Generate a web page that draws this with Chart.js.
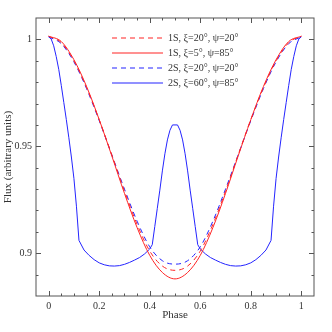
<!DOCTYPE html>
<html>
<head>
<meta charset="utf-8">
<script src="https://cdn.jsdelivr.net/npm/chart.js@4"></script>
<style>
  html, body { margin: 0; padding: 0; background: #fff; }
  #wrap { width: 332px; height: 332px; }
</style>
</head>
<body>
<div id="wrap"><canvas id="fluxChart" width="332" height="332"></canvas></div>
<script>
// phase grid of the smooth curves
const phase = [0, 0.05, 0.10, 0.15, 0.20, 0.25, 0.30, 0.35, 0.40, 0.45, 0.50,
               0.55, 0.60, 0.65, 0.70, 0.75, 0.80, 0.85, 0.90, 0.95, 1.00];

// 1S, xi=20, psi=20 (red dashed)
const flux1S_20_20 = [1.0015, 0.9985, 0.9900, 0.9775, 0.9625, 0.9460, 0.9290, 0.9135, 0.9010, 0.8940, 0.8920,
                      0.8940, 0.9010, 0.9135, 0.9290, 0.9460, 0.9625, 0.9775, 0.9900, 0.9985, 1.0015];
// 1S, xi=5, psi=85 (red solid)
const flux1S_5_85 = [1.0015, 0.9990, 0.9905, 0.9780, 0.9625, 0.9455, 0.9280, 0.9120, 0.8990, 0.8910, 0.8880,
                     0.8910, 0.8990, 0.9120, 0.9280, 0.9455, 0.9625, 0.9780, 0.9905, 0.9990, 1.0015];
// 2S, xi=20, psi=20 (blue dashed)
const flux2S_20_20 = [1.0012, 0.9980, 0.9895, 0.9770, 0.9620, 0.9460, 0.9300, 0.9150, 0.9030, 0.8965, 0.8949,
                      0.8965, 0.9030, 0.9150, 0.9300, 0.9460, 0.9620, 0.9770, 0.9895, 0.9980, 1.0012];

// 2S, xi=60, psi=85 (blue solid) has its own phases
const phase2S_60_85 = [0, 0.01, 0.02, 0.03, 0.04, 0.05, 0.06, 0.07, 0.08, 0.09, 0.10, 0.11, 0.12,
                       0.14, 0.16, 0.18, 0.20, 0.22, 0.24, 0.26, 0.28, 0.30, 0.32, 0.34, 0.36, 0.38, 0.40,
                       0.41, 0.42, 0.43, 0.44, 0.45, 0.46, 0.47, 0.48, 0.49, 0.51,
                       0.52, 0.53, 0.54, 0.55, 0.56, 0.57, 0.58, 0.59,
                       0.60, 0.62, 0.64, 0.66, 0.68, 0.70, 0.72, 0.74, 0.76, 0.78, 0.80, 0.82, 0.84, 0.86,
                       0.88, 0.89, 0.90, 0.91, 0.92, 0.93, 0.94, 0.95, 0.96, 0.97, 0.98, 0.99, 1.00];
const flux2S_60_85 = [1.0012, 1.0002, 0.9970, 0.9920, 0.9860, 0.9785, 0.9705, 0.9625, 0.9540, 0.9450, 0.9350, 0.9220, 0.9060,
                      0.9015, 0.8990, 0.8970, 0.8955, 0.8946, 0.8941, 0.8940, 0.8942, 0.8948, 0.8957, 0.8968, 0.8980, 0.8997, 0.9020,
                      0.9040, 0.9125, 0.9210, 0.9295, 0.9385, 0.9465, 0.9530, 0.9575, 0.9600, 0.9600,
                      0.9575, 0.9530, 0.9465, 0.9385, 0.9295, 0.9210, 0.9125, 0.9040,
                      0.9020, 0.8997, 0.8980, 0.8968, 0.8957, 0.8948, 0.8942, 0.8940, 0.8941, 0.8946, 0.8955, 0.8970, 0.8990, 0.9015,
                      0.9060, 0.9220, 0.9350, 0.9450, 0.9540, 0.9625, 0.9705, 0.9785, 0.9860, 0.9920, 0.9970, 1.0002, 1.0012];

const seriesLabels = ["1S, \u03be=20\u00b0, \u03c8=20\u00b0", "1S, \u03be=5\u00b0, \u03c8=85\u00b0",
                      "2S, \u03be=20\u00b0, \u03c8=20\u00b0", "2S, \u03be=60\u00b0, \u03c8=85\u00b0"];

// ticks
const xMajor = [0, 0.2, 0.4, 0.6, 0.8, 1];
const xMinor = [0.05, 0.1, 0.15, 0.25, 0.3, 0.35, 0.45, 0.5, 0.55, 0.65, 0.7, 0.75, 0.85, 0.9, 0.95];
const yMajor = [0.9, 0.95, 1];
const yMinor = [0.89, 0.91, 0.92, 0.93, 0.94, 0.96, 0.97, 0.98, 0.99, 1.0];

const RED = "#ff2424";
const BLUE = "#2424ff";
const seriesColors = [RED, RED, BLUE, BLUE];
const seriesDashes = [[5, 4], [], [5, 4], []];
const INK = "#333";
const FONT = "'Liberation Serif', 'DejaVu Serif', serif";

function pts(xs, ys) { return xs.map((v, i) => ({ x: v, y: ys[i] })); }

// frame with inward ticks on all four sides, plus the legend inside the plot
const framePlugin = {
  id: "frame",
  afterDraw(chart) {
    const { ctx, chartArea: a, scales: { x, y } } = chart;
    ctx.save();
    ctx.strokeStyle = "#555";
    ctx.lineWidth = 1;
    ctx.setLineDash([]);
    ctx.strokeRect(a.left, a.top, a.right - a.left, a.bottom - a.top);
    ctx.beginPath();
    const xt = (v, len) => {
      const px = Math.round(x.getPixelForValue(v)) + 0.5;
      ctx.moveTo(px, a.bottom); ctx.lineTo(px, a.bottom - len);
      ctx.moveTo(px, a.top); ctx.lineTo(px, a.top + len);
    };
    const yt = (v, len) => {
      const py = Math.round(y.getPixelForValue(v)) + 0.5;
      ctx.moveTo(a.left, py); ctx.lineTo(a.left + len, py);
      ctx.moveTo(a.right, py); ctx.lineTo(a.right - len, py);
    };
    xMajor.forEach(v => xt(v, 5));
    xMinor.forEach(v => xt(v, 2.5));
    yMajor.forEach(v => yt(v, 5));
    yMinor.forEach(v => yt(v, 2.5));
    ctx.stroke();
    ctx.restore();

    const rows = [38, 53, 68, 83];
    seriesLabels.forEach((label, i) => {
      ctx.save();
      ctx.beginPath();
      ctx.lineWidth = 1.1;
      ctx.strokeStyle = seriesColors[i];
      ctx.setLineDash(seriesDashes[i]);
      ctx.moveTo(112, rows[i]);
      ctx.lineTo(163, rows[i]);
      ctx.stroke();
      ctx.font = "10px " + FONT;
      ctx.textBaseline = "middle";
      ctx.textAlign = "left";
      ctx.fillStyle = INK;
      ctx.fillText(label, 168, rows[i] + 0.5);
      ctx.restore();
    });
  }
};

const fluxSeries = [flux1S_20_20, flux1S_5_85, flux2S_20_20, flux2S_60_85];
const phaseSeries = [phase, phase, phase, phase2S_60_85];

new Chart(document.getElementById("fluxChart"), {
  type: "scatter",
  data: {
    datasets: fluxSeries.map((ys, i) => ({
      label: seriesLabels[i],
      data: pts(phaseSeries[i], ys),
      showLine: true,
      pointRadius: 0,
      borderWidth: 1,
      fill: false,
      borderColor: seriesColors[i],
      borderDash: seriesDashes[i],
      cubicInterpolationMode: i === 3 ? "default" : "monotone",
      tension: 0
    }))
  },
  options: {
    responsive: false,
    animation: false,
    layout: { padding: { top: 18, right: 18, left: 0, bottom: 0 } },
    plugins: { legend: { display: false }, tooltip: { enabled: false } },
    scales: {
      x: {
        type: "linear", min: -0.05, max: 1.05,
        afterBuildTicks: s => { s.ticks = xMajor.map(v => ({ value: v })); },
        afterFit: s => { s.height = 36; },
        grid: { display: false, drawTicks: false },
        border: { display: false },
        ticks: { padding: 4, color: INK, font: { family: FONT, size: 10 }, maxRotation: 0, callback: v => String(+v.toFixed(2)) },
        title: { display: true, text: "Phase", color: INK, font: { family: FONT, size: 11 }, padding: { top: 0, bottom: 10 } }
      },
      y: {
        type: "linear", min: 0.88, max: 1.01,
        afterBuildTicks: s => { s.ticks = yMajor.map(v => ({ value: v })); },
        afterFit: s => { s.width = 36; },
        grid: { display: false, drawTicks: false },
        border: { display: false },
        ticks: { padding: 4, color: INK, font: { family: FONT, size: 10 }, callback: v => String(+v.toFixed(2)) },
        title: { display: true, text: "Flux (arbitrary units)", color: INK, font: { family: FONT, size: 11 }, padding: { top: 2, bottom: 0 } }
      }
    }
  },
  plugins: [framePlugin]
});
</script>
</body>
</html>
